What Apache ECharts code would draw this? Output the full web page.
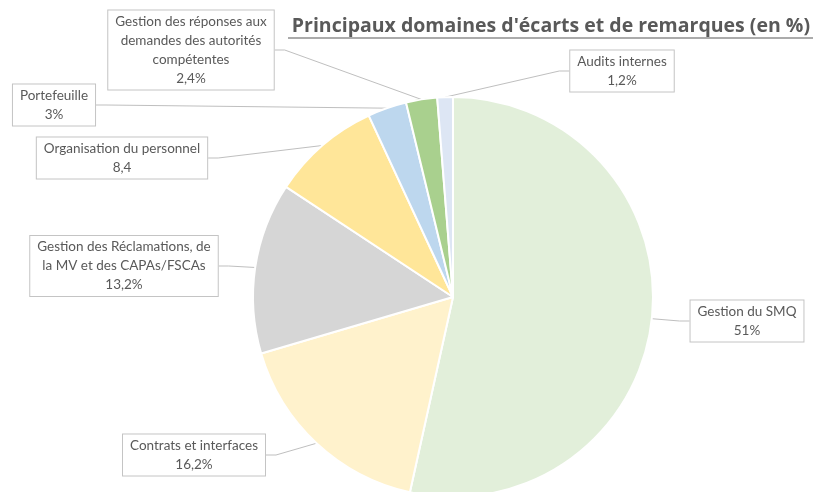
<!DOCTYPE html>
<html>
<head>
<meta charset="utf-8">
<script src="https://cdn.jsdelivr.net/npm/echarts@6/dist/echarts.min.js"></script>
<style>
  html, body { margin: 0; padding: 0; background: #fff; }
  #chart { width: 823px; height: 492px; }
</style>
</head>
<body>
<div id="chart"></div>
<script>
// categories (clockwise from 12 o'clock)
var categories = [
  'Gestion du SMQ',
  'Contrats et interfaces',
  'Gestion des Réclamations, de\nla MV et des CAPAs/FSCAs',
  'Organisation du personnel',
  'Portefeuille',
  'Gestion des réponses aux\ndemandes des autorités\ncompétentes',
  'Audits internes'
];
var values = [51, 16.2, 13.2, 8.4, 3, 2.4, 1.2];
var valueLabels = ['51%', '16,2%', '13,2%', '8,4', '3%', '2,4%', '1,2%'];

var sliceColors = ['#e2efda', '#fff2cc', '#d6d6d6', '#ffe699', '#bdd7ee', '#a9d08e', '#dde6f4'];
// label box centres
var labelPos = [[747, 321], [194, 455], [124, 266], [122, 158], [54, 105], [191, 50], [622, 71]];

var textGray = '#595959';

var pieData = [];
for (var i = 0; i < categories.length; i++) {
  pieData.push({
    name: categories[i],
    value: values[i],
    itemStyle: { color: sliceColors[i] }
  });
}

var chart = echarts.init(document.getElementById('chart'));

var option = {
  animation: false,
  backgroundColor: '#fff',
  title: {
    text: "Principaux domaines d'écarts et de remarques (en %)",
    right: 8,
    top: 11,
    textStyle: {
      fontFamily: 'Open Sans',
      fontWeight: 'bold',
      fontSize: 19.5,
      color: textGray
    }
  },
  graphic: [{
    // title underline
    type: 'line',
    shape: { x1: 288, y1: 38, x2: 813, y2: 38 },
    style: { stroke: textGray, lineWidth: 1.2 }
  }],
  series: [{
    type: 'pie',
    center: [453, 297],
    radius: 200,
    startAngle: 90,
    clockwise: true,
    data: pieData,
    itemStyle: {
      borderColor: '#fff',
      borderWidth: 2
    },
    label: {
      show: true,
      position: 'outside',
      formatter: function (p) {
        return p.name + '\n' + valueLabels[p.dataIndex];
      },
      fontFamily: 'Lato',
      fontSize: 13.5,
      lineHeight: 19,
      color: textGray,
      align: 'center',
      backgroundColor: '#fff',
      borderColor: '#c4c4c4',
      borderWidth: 1,
      padding: [2, 7, 1, 7]
    },
    labelLine: {
      show: true,
      length: 10,
      length2: 10,
      lineStyle: { color: '#bfbfbf', width: 1 }
    },
    labelLayout: function (params) {
      var pos = labelPos[params.dataIndex];
      return {
        x: pos[0],
        y: pos[1],
        align: 'center',
        verticalAlign: 'middle'
      };
    },
    emphasis: { disabled: true }
  }]
};

chart.setOption(option);
</script>
</body>
</html>
